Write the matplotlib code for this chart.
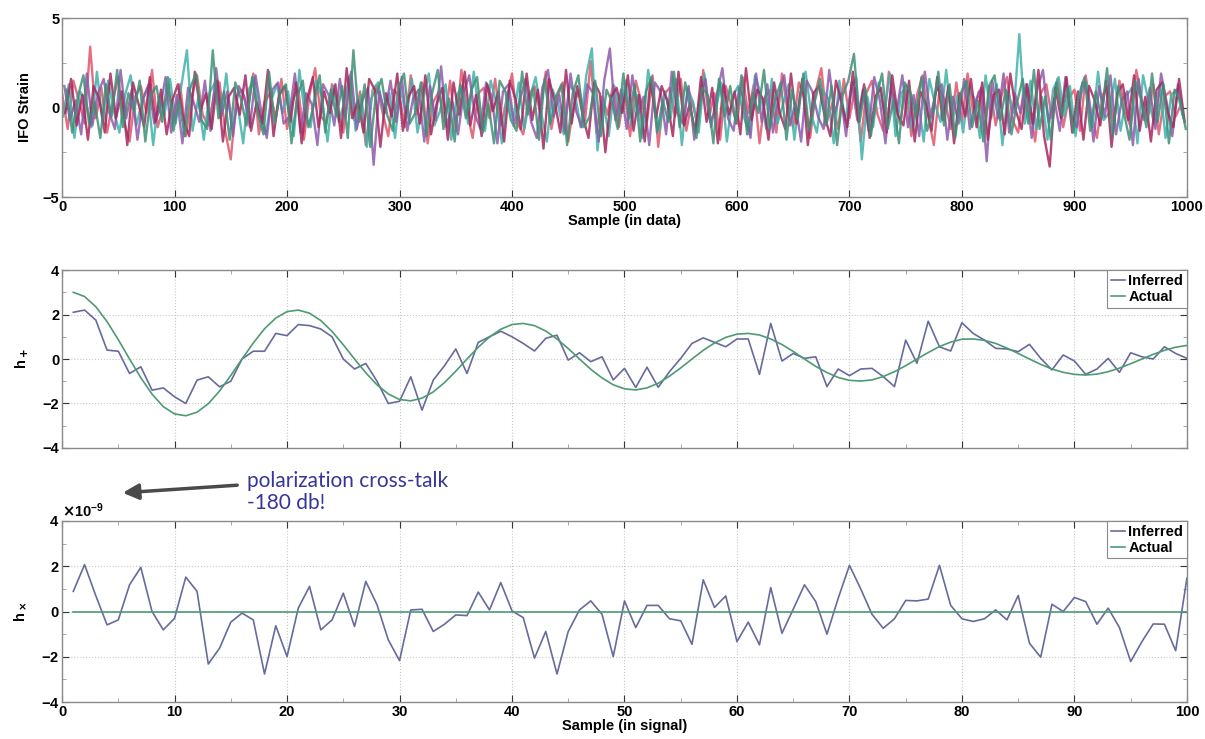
"""
Three-panel figure: raw interferometer strain, then inferred vs actual h+ and hx.
"""

import matplotlib
matplotlib.use("Agg")  # no display
import matplotlib.pyplot as plt
import numpy as np
from matplotlib.ticker import MultipleLocator, ScalarFormatter

# ---- data -----------------------------------------------------------------

# top panel: strain in tenths, one value every 5 samples per channel
STRAIN_STEP = 5
STRAIN_RED = [
    8, -12, 15, 4, -9, 34, -6, 11, -14, 3, 17, -8, -19, 6, 12, -3, 21, -11, 0, 9,
    -7, 13, -16, 5, 18, -4, -10, 7, 14, -13, -29, 6, 10, -2, 19, -15, 3, 8, -6, 16,
    -12, 4, 11, -18, 7, 22, -5, -9, 13, 2, -14, 17, -7, 9, -21, 5, 12, -3, -16, 10,
    6, -11, 18, -4, 14, -20, 3, 9, -8, 15, -13, 21, -2, -17, 8, 11, -6, 16, -10, 4,
    19, -9, -15, 7, 12, -3, 20, -12, 5, 14, -19, 2, 10, -7, 26, -14, 6, -4, 13, -11,
    9, -16, 15, 3, -8, 18, -22, 7, 11, -5, 16, -13, 4, -10, 21, -6, 8, -18, 12, 1,
    -9, 17, -3, 13, -20, 6, 10, -14, 19, -2, -11, 14, 5, -17, 9, 22, -8, 3, -12, 16,
    -6, 11, -19, 8, 15, -4, -13, 20, 2, -9, 12, -16, 7, 18, -5, -21, 10, 4, -12, 14,
    -8, 19, -3, 9, -15, 12, -10, 6, 17, -7, -14, 11, 3, -19, 8, 13, -6, 16, -11, 5,
    10, -13, 18, -4, -17, 7, 12, -9, 15, -2, -11, 21, 4, -8, 13, -15, 6, 9, -5, 2,
]
STRAIN_TEAL = [
    -5, 13, -17, 9, 4, -11, 20, -8, 15, -2, -14, 7, 18, -10, 3, 11, -21, 6, -4, 16,
    -9, 12, 32, -13, 5, -18, 8, 14, -6, 19, -12, 2, -20, 10, 17, -7, -15, 4, 13, -3,
    9, -16, 21, -5, -11, 15, 6, -19, 12, -8, 3, 18, -13, 7, -22, 10, 14, -4, 8, -17,
    11, -6, 16, -14, 4, 19, -10, -2, 13, -18, 7, 12, -9, 20, -5, -13, 15, 3, -20, 9,
    -7, 14, -12, 6, 17, -3, -19, 10, 2, -15, 13, 8, -11, 18, 33, -24, 5, -16, 12, -4,
    15, -10, 7, -17, 21, 4, -13, 9, -6, 16, -21, 11, 3, -14, 19, -8, -2, 14, -19, 6,
    12, -5, -15, 18, 8, -12, 16, -9, 2, 13, -18, 7, 20, -4, -14, 10, 5, -20, 15, -7,
    9, 17, -29, 6, -11, 14, -3, 19, -16, 8, 12, -13, 4, -19, 16, 2, -8, 21, -10, 7,
    -14, 11, 5, -17, 18, -6, 13, -21, 9, -3, 41, -9, 15, -12, 6, -18, 10, 17, -5, 12,
    -16, 8, 14, -11, 20, -7, -3, 16, -13, 6, 11, -20, 18, 3, -9, 13, -17, 7, 10, -4,
]
STRAIN_PURPLE = [
    12, -7, 4, -15, 19, -10, 8, 16, -3, -12, 21, -6, 10, -18, 5, 13, -9, -1, 17, -14,
    7, -20, 11, 3, -8, 15, -13, 22, -4, 9, -16, 12, 6, -11, 18, -2, -17, 10, 14, -9,
    -5, 19, -14, 8, 2, -21, 13, 7, -10, 16, -6, 20, -12, 4, 11, -32, 9, -3, 15, -8,
    17, -13, 5, 10, -19, 12, -7, 23, -11, 3, -15, 8, 18, -4, -12, 14, 6, -20, 9, 13,
    -10, 4, 16, -8, -17, 11, 21, -5, 7, -14, 19, -2, -11, 13, 8, -19, 15, 33, -7, 10,
    -12, 18, -4, 6, -21, 14, 9, -15, 20, -3, -9, 12, -18, 5, 16, -11, 7, 22, -6, -13,
    11, 3, -17, 19, -8, 13, -14, 6, 18, -10, 2, -19, 15, 9, -5, -12, 21, -3, 8, -16,
    14, -7, 10, -13, 17, 4, -20, 12, -2, 18, -11, 7, -16, 20, -5, 9, 13, -18, 6, -9,
    16, -12, 3, 11, -30, 15, -6, 19, -14, 8, -3, 13, -17, 10, 21, -8, 5, -13, 17, -4,
    -11, 14, 7, -19, 12, -5, 18, -15, 4, 9, -21, 16, -7, 11, -12, 19, 3, -16, 13, -6,
]
STRAIN_CRIMSON = [
    -3, 16, -10, 7, -18, 12, 5, -14, 19, -6, 9, -21, 14, 2, -11, 17, -8, 10, -15, 4,
    13, -7, -16, 20, -2, 8, -12, 15, -19, 6, 11, -4, 18, -13, 3, -9, 21, -16, 7, 12,
    -8, 14, -20, 5, 17, -11, 9, -3, 13, -17, 22, -6, 4, -14, 16, 10, -22, 8, -5, 19,
    -13, 6, 12, -9, 18, -15, 2, 11, -18, 14, -4, 20, -10, 7, -16, 13, -2, 9, -19, 15,
    5, -12, 19, -7, 10, -23, 16, 3, -14, 21, -9, 12, -5, -17, 14, 8, -25, 6, 11, -3,
    18, -13, 7, -19, 15, -6, 12, 4, -16, 20, -10, 2, -14, 17, -8, 11, -20, 13, -4, 9,
    -15, 22, -7, 10, 5, -18, 14, -3, -12, 19, -9, 16, -21, 8, 12, -5, -16, 15, 3, -11,
    20, -8, 13, -17, 6, 11, -14, 18, -4, -10, 15, -19, 9, 2, -13, 17, -7, 12, -20, 8,
    -5, 16, -11, 14, -18, 7, 10, -15, 19, -2, -12, 13, -9, 21, -16, -33, 11, -6, 17, -14,
    9, -18, 12, 4, -10, 15, -22, 8, 13, -7, 18, -13, 6, -19, 10, 14, -3, -11, 16, -8,
]
STRAIN_GREEN = [
    10, -14, 6, 18, -9, 3, -17, 13, -5, 21, -11, 8, -2, 15, -19, 7, 12, -8, 17, -13,
    4, -16, 11, 19, -7, -12, 32, -6, 9, -18, 14, 5, -10, 17, -3, -15, 20, -9, 8, 13,
    -20, 6, 15, -11, 2, 18, -14, 10, -5, 12, -17, 32, -8, 13, -22, 7, 16, -4, -13, 11,
    19, -9, -3, 14, -16, 8, 21, -12, 5, -19, 13, -6, 10, 17, -14, 2, -20, 15, 9, -7,
    -13, 20, -4, 11, -18, 16, -9, 6, 13, -21, 8, 18, -11, -5, 15, -16, 10, 3, -12, 19,
    -6, 13, -19, 9, 17, -14, 4, -8, 20, -11, 14, -2, -17, 11, 7, -20, 16, -5, 12, -9,
    18, -15, 8, -3, 21, -12, 5, 14, -18, 10, -7, 19, -13, 3, 16, -10, 12, -21, 7, 15,
    30, -8, 11, -16, 6, 19, -12, 4, -20, 14, 9, -5, 17, -13, -2, 20, -10, 13, -17, 8,
    15, -11, 4, -19, 12, 18, -7, 10, -15, 3, 16, -9, 21, -12, 6, -18, 14, -4, 11, -14,
    7, 17, -13, 9, -6, 22, -16, 12, -3, -18, 15, 5, -11, 19, -8, 13, -20, 10, 4, -12,
]
STRAIN_CHANNELS = [
    (STRAIN_RED, 0, "#e0566c"),
    (STRAIN_TEAL, 1, "#3fb2aa"),
    (STRAIN_PURPLE, 2, "#8d5aab"),
    (STRAIN_CRIMSON, 3, "#a6285f"),
    (STRAIN_GREEN, 4, "#3f8f78"),
]

# middle panel: h+ for samples 1..100
H_PLUS_INFERRED = [
    2.1, 2.2, 1.75, 0.4, 0.35, -0.65, -0.35, -1.4, -1.3, -1.7,
    -2.0, -0.95, -0.8, -1.25, -1.0, 0.0, 0.35, 0.35, 1.15, 1.05,
    1.55, 1.5, 1.35, 1.0, 0.0, -0.45, -0.2, -1.0, -2.0, -1.9,
    -0.8, -2.3, -0.95, -0.3, 0.45, -0.65, 0.75, 1.0, 1.25, 1.0,
    0.7, 0.36, 0.93, 1.07, -0.05, 0.28, -0.12, 0.1, -0.94, -0.42,
    -1.28, -0.37, -1.27, -0.57, 0.03, 0.7, 0.95, 0.75, 0.55, 0.9,
    0.9, -0.69, 1.6, -0.09, 0.25, 0.03, 0.1, -1.24, -0.45, -0.75,
    -0.45, -0.42, -0.79, -1.24, 0.85, -0.19, 1.7, 0.55, 0.36, 1.63,
    1.15, 0.85, 0.48, 0.45, 0.33, 0.66, 0.03, -0.49, 0.18, -0.09,
    -0.69, -0.45, 0.03, -0.6, 0.28, 0.1, 0.0, 0.55, 0.25, 0.03,
]
H_PLUS_ACTUAL = [
    3.00, 2.81, 2.35, 1.68, 0.87, 0.00, -0.84, -1.58, -2.14, -2.47,
    -2.55, -2.39, -2.01, -1.44, -0.74, 0.00, 0.72, 1.36, 1.84, 2.13,
    2.20, 2.06, 1.73, 1.24, 0.64, 0.00, -0.62, -1.16, -1.57, -1.82,
    -1.88, -1.76, -1.48, -1.06, -0.55, 0.00, 0.53, 0.99, 1.34, 1.55,
    1.60, 1.50, 1.26, 0.90, 0.47, 0.00, -0.46, -0.85, -1.16, -1.34,
    -1.39, -1.30, -1.09, -0.77, -0.40, 0.00, 0.39, 0.72, 0.97, 1.12,
    1.15, 1.08, 0.90, 0.65, 0.34, 0.00, -0.33, -0.61, -0.83, -0.96,
    -0.99, -0.94, -0.79, -0.57, -0.30, 0.00, 0.29, 0.56, 0.76, 0.89,
    0.90, 0.84, 0.70, 0.49, 0.25, 0.00, -0.24, -0.45, -0.60, -0.69,
    -0.72, -0.68, -0.57, -0.41, -0.21, 0.00, 0.21, 0.39, 0.53, 0.61,
]

# bottom panel: hx for samples 1..100, in units of 1e-9
H_CROSS_INFERRED = [
    0.89, 2.07, 0.7, -0.59, -0.37, 1.18, 1.95, 0.0, -0.81, -0.3,
    1.52, 0.89, -2.32, -1.62, -0.47, -0.07, -0.37, -2.76, -0.63, -1.99,
    0.15, 1.11, -0.81, -0.37, 0.81, -0.66, 1.33, 0.3, -1.25, -2.17,
    0.07, 0.1, -0.88, -0.56, -0.15, -0.18, 0.86, 0.07, 1.28, 0.03,
    -0.27, -2.06, -0.88, -2.76, -0.88, 0.07, 0.47, -0.12, -1.99, 0.47,
    -0.71, 0.27, 0.27, -0.32, -0.41, -1.45, 1.4, 0.18, 0.69, -1.33,
    -0.47, -1.47, 1.06, -0.96, 0.1, 1.18, 0.44, -1.0, 0.59, 2.04,
    1.0, -0.12, -0.74, -0.32, 0.49, 0.47, 0.55, 2.04, 0.27, -0.32,
    -0.44, -0.32, 0.07, -0.37, 0.71, -1.4, -2.02, 0.32, 0.0, 0.62,
    0.44, -0.56, 0.15, -0.71, -2.21, -1.33, -0.55, -0.56, -1.73, 1.47,
]
H_CROSS_ACTUAL = [0.0] * 100
CROSS_SCALE = 1e-9

INFERRED_COLOR = "#676b9c"
ACTUAL_COLOR = "#4e9a73"
FRAME_COLOR = "#8a8a8a"
NOTE_COLOR = "#36369a"

# ---- helpers --------------------------------------------------------------

plt.rcParams["font.family"] = ["Liberation Sans", "DejaVu Sans"]
plt.rcParams["font.weight"] = "bold"
plt.rcParams["axes.labelweight"] = "bold"
plt.rcParams["font.size"] = 10.5


def _matlab_axes(ax):
    """Boxed axes, inward ticks on all sides, faint dotted grid."""
    for sp in ax.spines.values():
        sp.set_color(FRAME_COLOR)
        sp.set_linewidth(1.0)
    ax.tick_params(which="both", direction="in", top=True, right=True,
                   color="#333333", labelsize=10.5, pad=2)
    ax.tick_params(which="major", length=5)
    ax.tick_params(which="minor", length=3, color="#999999")
    ax.grid(True, which="major", linestyle=":", color="#c8c8c8", linewidth=0.8)
    ax.set_axisbelow(True)


def plot_strain(ax):
    for values, offset, color in STRAIN_CHANNELS:
        x = offset + STRAIN_STEP * np.arange(len(values))
        ax.plot(x, np.array(values) / 10.0, color=color, linewidth=1.7, alpha=0.85)
    ax.set_xlim(0, 1000)
    ax.set_ylim(-5, 5)
    ax.xaxis.set_major_locator(MultipleLocator(100))
    ax.yaxis.set_major_locator(MultipleLocator(5))
    ax.yaxis.set_minor_locator(MultipleLocator(2.5))
    ax.set_xlabel("Sample (in data)", labelpad=0)
    ax.set_ylabel("IFO Strain", labelpad=8)
    _matlab_axes(ax)


def plot_signal(ax, inferred, actual, scale=1.0):
    x = np.arange(1, len(inferred) + 1)
    ax.plot(x, np.array(inferred) * scale, color=INFERRED_COLOR, linewidth=1.2,
            label="Inferred")
    ax.plot(x, np.array(actual) * scale, color=ACTUAL_COLOR, linewidth=1.2,
            label="Actual")
    ax.set_xlim(0, 100)
    ax.set_ylim(-4 * scale, 4 * scale)
    ax.xaxis.set_major_locator(MultipleLocator(10))
    ax.xaxis.set_minor_locator(MultipleLocator(5))
    ax.yaxis.set_major_locator(MultipleLocator(2 * scale))
    ax.yaxis.set_minor_locator(MultipleLocator(1 * scale))
    leg = ax.legend(loc="upper right", fontsize=10.5, handlelength=1.0,
                    handletextpad=0.2, borderpad=0.25, labelspacing=0.15,
                    borderaxespad=0.0, fancybox=False, framealpha=1.0)
    leg.get_frame().set_edgecolor(FRAME_COLOR)
    leg.get_frame().set_linewidth(0.8)
    _matlab_axes(ax)


def main():
    fig = plt.figure(figsize=(12.05, 7.39), dpi=100)
    left, width = 0.0515, 0.9335
    ax_top = fig.add_axes([left, 0.7334, width, 0.2422])
    ax_mid = fig.add_axes([left, 0.3938, width, 0.2408])
    ax_bot = fig.add_axes([left, 0.0500, width, 0.2450])

    plot_strain(ax_top)

    plot_signal(ax_mid, H_PLUS_INFERRED, H_PLUS_ACTUAL)
    ax_mid.tick_params(labelbottom=False)
    ax_mid.set_ylabel("h$_+$", labelpad=8)

    plot_signal(ax_bot, H_CROSS_INFERRED, H_CROSS_ACTUAL, scale=CROSS_SCALE)
    fmt = ScalarFormatter(useMathText=True)
    fmt.set_powerlimits((0, 0))
    ax_bot.yaxis.set_major_formatter(fmt)
    ax_bot.yaxis.get_offset_text().set_fontsize(10.5)
    ax_bot.set_xlabel("Sample (in signal)", labelpad=0)
    ax_bot.set_ylabel("h$_\\times$", labelpad=8)

    # callout pointing at the 1e-9 multiplier
    fig.text(247, 247, "polarization cross-talk\n-180 db!", transform=None,
             ha="left", va="center", fontsize=15, color=NOTE_COLOR,
             family=["Lato", "DejaVu Sans"], fontweight="normal", linespacing=1.1)
    ax_bot.annotate("", xy=(120, 246), xycoords="figure pixels",
                    xytext=(240, 254), textcoords="figure pixels",
                    arrowprops=dict(arrowstyle="-|>,head_length=0.9,head_width=0.45",
                                    color="#4a4a4a", linewidth=2.5))

    fig.savefig("out.png", dpi=100)
    plt.close(fig)


if __name__ == "__main__":
    main()
